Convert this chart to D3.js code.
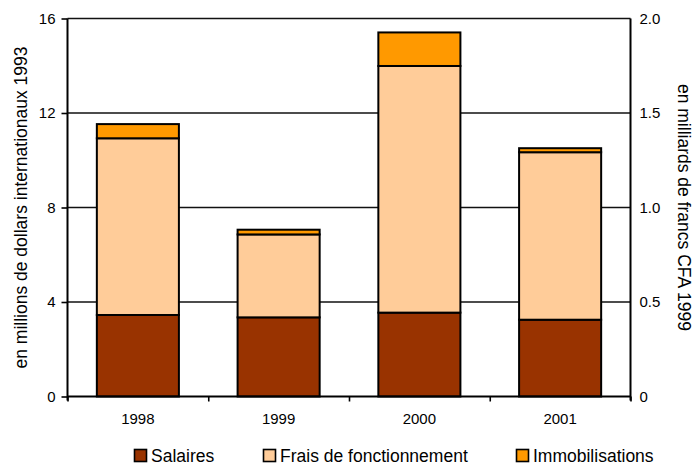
<!DOCTYPE html>
<html><head><meta charset="utf-8">
<script src="https://cdn.jsdelivr.net/npm/d3@7"></script>
<style>html,body{margin:0;padding:0;background:#fff;}svg{display:block;font-family:"Liberation Sans",Arial,sans-serif;}</style>
</head><body>
<svg id="c" width="695" height="466"></svg>
<script>
const years = ["1998","1999","2000","2001"];
const salaires = [3.45, 3.35, 3.55, 3.25];
const frais = [7.48, 3.51, 10.44, 7.09];
const immob = [0.60, 0.20, 1.42, 0.17];
const seriesNames = ["Salaires","Frais de fonctionnement","Immobilisations"];
const colors = ["#993300","#FFCC99","#FF9900"];
const leftTicks = [0,4,8,12,16];
const rightTicks = [0,0.5,1.0,1.5,2.0];
const rightLabels = ["0","0.5","1.0","1.5","2.0"];

const svg = d3.select("#c");
const L = 67.5, R = 630.5, T = 18.5, B = 396.5;
const x = d3.scaleBand().domain(years).range([L,R]).paddingInner(0.417).paddingOuter(0.2085);
const y = d3.scaleLinear().domain([0,16]).range([B,T]);
const y2 = d3.scaleLinear().domain([0,2]).range([B,T]);

// gridlines
svg.append("g").selectAll("line").data(leftTicks.filter(d=>d>0)).join("line")
  .attr("x1",L).attr("x2",R).attr("y1",d=>y(d)).attr("y2",d=>y(d))
  .attr("stroke","#111").attr("stroke-width",1.6);

// stacked bars
const rows = years.map((yr,i)=>({year:yr, s0:salaires[i], s1:frais[i], s2:immob[i]}));
const stack = d3.stack().keys(["s0","s1","s2"])(rows);
svg.append("g").selectAll("g").data(stack).join("g")
  .attr("fill",(d,i)=>colors[i])
  .selectAll("rect").data(d=>d).join("rect")
  .attr("x",d=>x(d.data.year)).attr("width",x.bandwidth())
  .attr("y",d=>y(d[1])).attr("height",d=>y(d[0])-y(d[1]))
  .attr("stroke","#000").attr("stroke-width",2);

// left axis
const gl = svg.append("g").attr("transform",`translate(${L},0)`)
  .call(d3.axisLeft(y).tickValues(leftTicks).tickFormat(d3.format("d")).tickSize(6).tickPadding(6));
gl.select(".domain").attr("stroke","#000").attr("stroke-width",2).attr("d",`M0,${B+4}V${T}`);
gl.selectAll(".tick line").attr("stroke","#000").attr("stroke-width",1.6);
gl.selectAll("text").attr("font-size",15).attr("fill","#000").attr("font-family","Liberation Sans, Arial, sans-serif");

// right axis
const gr = svg.append("g").attr("transform",`translate(${R},0)`)
  .call(d3.axisRight(y2).tickValues(rightTicks).tickFormat((d,i)=>rightLabels[i]).tickSize(0).tickPadding(9));
gr.select(".domain").attr("stroke","#000").attr("stroke-width",2).attr("d",`M0,${B+4}V${T}`);
gr.selectAll("text").attr("font-size",15).attr("fill","#000").attr("font-family","Liberation Sans, Arial, sans-serif");

// bottom axis
const xb = d3.scaleLinear().domain([0,4]).range([L,R]);
const gb = svg.append("g").attr("transform",`translate(0,${B})`)
  .call(d3.axisBottom(xb).tickValues([0,1,2,3,4]).tickFormat("").tickSize(5));
gb.select(".domain").attr("stroke","#000").attr("stroke-width",2).attr("d",`M${L},0H${R}`);
gb.selectAll(".tick line").attr("stroke","#000").attr("stroke-width",1.6);
svg.append("g").selectAll("text").data(years).join("text")
  .attr("x",d=>x(d)+x.bandwidth()/2).attr("y",424).attr("text-anchor","middle")
  .attr("font-size",15).text(d=>d);

// axis titles
svg.append("text").attr("transform",`translate(27,${(T+B)/2}) rotate(-90)`)
  .attr("text-anchor","middle").attr("font-size",17.5).text("en millions de dollars internationaux 1993");
svg.append("text").attr("transform",`translate(678,${(T+B)/2}) rotate(90)`)
  .attr("text-anchor","middle").attr("font-size",17.5).text("en milliards de francs CFA 1999");

// legend
const legX = [134, 263, 516];
const lg = svg.append("g").selectAll("g").data(seriesNames).join("g")
  .attr("transform",(d,i)=>`translate(${legX[i]},449)`);
lg.append("rect").attr("x",0.5).attr("y",0.5).attr("width",12).attr("height",12)
  .attr("fill",(d,i)=>colors[i]).attr("stroke","#000").attr("stroke-width",1.6);
lg.append("text").attr("x",17).attr("y",13).attr("font-size",17.5).text(d=>d);
</script>
</body></html>
